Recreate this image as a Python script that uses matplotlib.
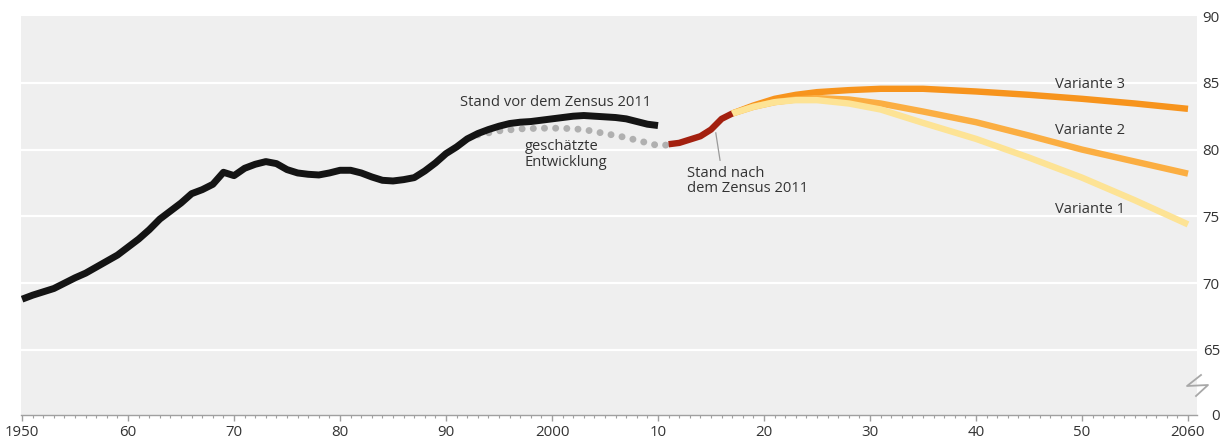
import matplotlib
matplotlib.use("Agg")
import matplotlib.pyplot as plt
from matplotlib.ticker import MultipleLocator

plt.rcParams['font.family'] = ['Open Sans', 'DejaVu Sans']

# ---- data ----
years_hist = list(range(1950, 2011))
vals_hist = [68.8, 69.1, 69.35, 69.6, 70.0, 70.4, 70.75, 71.2, 71.65, 72.1,
             72.7, 73.3, 74.0, 74.8, 75.4, 76.0, 76.7, 77.0, 77.4, 78.3,
             78.05, 78.6, 78.9, 79.1, 78.95, 78.5, 78.25, 78.15, 78.1, 78.25,
             78.45, 78.45, 78.25, 77.95, 77.7, 77.65, 77.75, 77.9, 78.4, 79.0,
             79.7, 80.2, 80.8, 81.2, 81.5, 81.75, 81.95, 82.05, 82.1, 82.2,
             82.3, 82.4, 82.5, 82.55, 82.5, 82.45, 82.4, 82.3, 82.1, 81.9,
             81.8]

years_est = [1993, 1995, 1997, 1999, 2001, 2003, 2005, 2007, 2009, 2010, 2011]
vals_est = [81.1, 81.4, 81.55, 81.6, 81.6, 81.5, 81.2, 80.9, 80.5, 80.3, 80.35]

years_new = [2011, 2012, 2013, 2014, 2015, 2016, 2017]
vals_new = [80.4, 80.5, 80.75, 81.0, 81.5, 82.3, 82.7]

years_var = [2017, 2019, 2021, 2023, 2025, 2028, 2031, 2035, 2040, 2045, 2050, 2055, 2060]
vals_v3 = [82.7, 83.3, 83.8, 84.1, 84.3, 84.45, 84.55, 84.55, 84.35, 84.1, 83.8, 83.45, 83.05]
vals_v2 = [82.7, 83.2, 83.55, 83.75, 83.85, 83.75, 83.45, 82.85, 82.05, 81.05, 80.0, 79.1, 78.2]
vals_v1 = [82.7, 83.2, 83.55, 83.7, 83.7, 83.45, 83.0, 82.0, 80.8, 79.4, 77.9, 76.2, 74.4]

x_major = [1950, 1960, 1970, 1980, 1990, 2000, 2010, 2020, 2030, 2040, 2050, 2060]
x_labels = ['1950', '60', '70', '80', '90', '2000', '10', '20', '30', '40', '50', '2060']
y_ticks = [60.13, 65, 70, 75, 80, 85, 90]
y_labels = ['0', '65', '70', '75', '80', '85', '90']
grid_vals = [65, 70, 75, 80, 85]

# ---- figure ----
W, H = 1231, 443
fig = plt.figure(figsize=(W / 100, H / 100), dpi=100)
fig.patch.set_facecolor('white')
ax = fig.add_axes([21 / W, 1 - 415 / H, (1197 - 21) / W, (415 - 16) / H])
ax.set_facecolor('#efefef')
ax.set_xlim(1949.9, 2060.85)
ax.set_ylim(60.13, 90)

for g in grid_vals:
    ax.axhline(g, color='white', lw=1.6, zorder=1)

ax.plot(years_var, vals_v3, color='#f7941d', lw=4.6, zorder=3, solid_capstyle='butt')
ax.plot(years_var, vals_v2, color='#fbae42', lw=4.6, zorder=4, solid_capstyle='butt')
ax.plot(years_var, vals_v1, color='#fde395', lw=4.6, zorder=5, solid_capstyle='butt')

ax.plot(years_est, vals_est, color='#b0b0b0', lw=5.0, linestyle=(0, (0.01, 1.6)),
        dash_capstyle='round', zorder=3)
ax.plot(years_hist, vals_hist, color='#141414', lw=5.0, zorder=6,
        solid_joinstyle='round', solid_capstyle='butt')
ax.plot(years_new, vals_new, color='#a3200f', lw=4.6, zorder=6, solid_capstyle='butt')

txt = dict(color='#333333', fontsize=10.6)
ax.text(1991.3, 83.5, 'Stand vor dem Zensus 2011', ha='left', va='center', **txt)
ax.text(1997.4, 79.65, 'geschätzte\nEntwicklung', ha='left', va='center',
        linespacing=1.05, **txt)
ax.text(2012.7, 77.65, 'Stand nach\ndem Zensus 2011', ha='left', va='center',
        linespacing=1.05, **txt)
ax.plot([2015.45, 2015.85], [81.25, 79.2], color='#9a9a9a', lw=0.9, zorder=7)
ax.text(2050.8, 84.85, 'Variante 3', ha='center', va='center', **txt)
ax.text(2050.8, 81.4, 'Variante 2', ha='center', va='center', **txt)
ax.text(2050.8, 75.55, 'Variante 1', ha='center', va='center', **txt)

# axes styling
for s in ['top', 'left', 'right']:
    ax.spines[s].set_visible(False)
ax.spines['bottom'].set_color('#a0a0a0')
ax.spines['bottom'].set_linewidth(1.0)
ax.set_xticks(x_major)
ax.set_xticklabels(x_labels)
ax.xaxis.set_minor_locator(MultipleLocator(1))
ax.tick_params(axis='x', which='major', length=4, width=1, color='#a0a0a0',
               labelsize=10.8, labelcolor='#333333', pad=3)
ax.tick_params(axis='x', which='minor', length=2.2, width=0.8, color='#a0a0a0')

ax.yaxis.tick_right()
ax.set_yticks(y_ticks)
ax.set_yticklabels(y_labels)
ax.tick_params(axis='y', length=0, labelsize=10.8, labelcolor='#333333', pad=16.5)
for lab in ax.get_yticklabels():
    lab.set_horizontalalignment('right')

# axis break symbol
pts = [(1201, 375), (1187, 386), (1208, 385), (1196, 396)]
fig.add_artist(plt.Line2D([p[0] / W for p in pts], [1 - p[1] / H for p in pts],
                          color='#a8a8a8', lw=1.3, transform=fig.transFigure))

fig.savefig('out.png', dpi=100, facecolor='white')
